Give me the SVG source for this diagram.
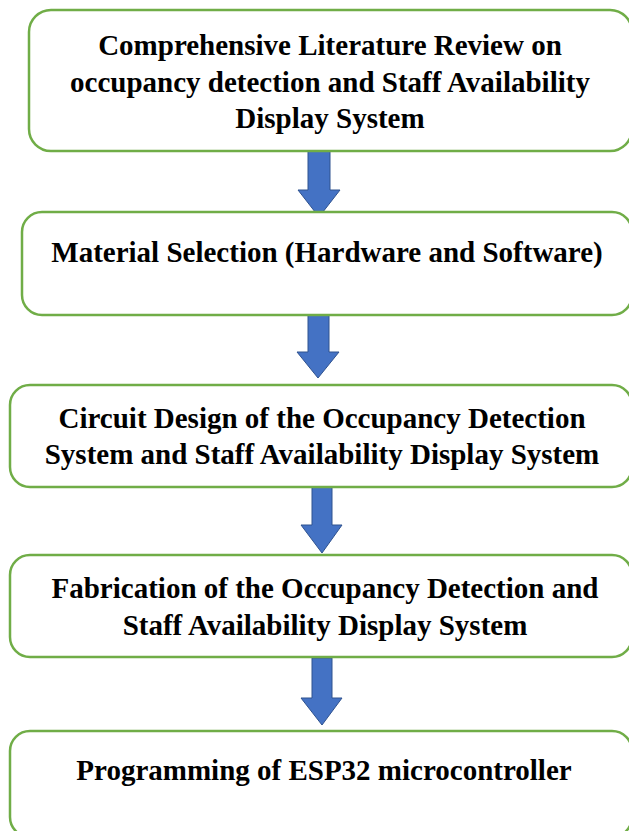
<svg xmlns="http://www.w3.org/2000/svg" width="629" height="831" viewBox="0 0 629 831">
  <defs>
    <style>
      .box { fill: #ffffff; stroke: #70ad47; stroke-width: 2.5; }
      .arrow { fill: #4472c4; stroke: #2f528f; stroke-width: 1; }
      .label { font-family: "Liberation Serif", "Times New Roman", serif; font-weight: bold; font-size: 29px; fill: #000000; text-anchor: middle; }
    </style>
  </defs>
  <rect width="629" height="831" fill="#ffffff"/>

  <g id="connectors">
    <path class="arrow" d="M308,151 L330,151 L330,190 L340,190 L319,217 L298,190 L308,190 Z"/>
    <path class="arrow" d="M308,313 L329,313 L329,352 L339,352 L318,378 L297,352 L308,352 Z"/>
    <path class="arrow" d="M312,487 L332,487 L332,525 L342,525 L322,553 L301,525 L312,525 Z"/>
    <path class="arrow" d="M312,658 L332,658 L332,698 L342,698 L322,725 L301,698 L312,698 Z"/>
  </g>

  <g id="node-review">
    <rect class="box" x="29" y="10" width="603" height="141" rx="22"/>
    <text class="label" x="330" y="55">Comprehensive Literature Review on</text>
    <text class="label" x="330" y="92">occupancy detection and Staff Availability</text>
    <text class="label" x="330" y="128">Display System</text>
  </g>

  <g id="node-material">
    <rect class="box" x="22" y="212" width="610" height="103" rx="20"/>
    <text class="label" x="327" y="262">Material Selection (Hardware and Software)</text>
  </g>

  <g id="node-circuit">
    <rect class="box" x="10" y="385" width="622" height="102" rx="20"/>
    <text class="label" x="322" y="428">Circuit Design of the Occupancy Detection</text>
    <text class="label" x="322" y="464">System and Staff Availability Display System</text>
  </g>

  <g id="node-fabrication">
    <rect class="box" x="10" y="555" width="622" height="102" rx="20"/>
    <text class="label" x="325" y="598">Fabrication of the Occupancy Detection and</text>
    <text class="label" x="325" y="635">Staff Availability Display System</text>
  </g>

  <g id="node-programming">
    <rect class="box" x="10" y="731" width="622" height="106" rx="20"/>
    <text class="label" x="324" y="780">Programming of ESP32 microcontroller</text>
  </g>
</svg>
